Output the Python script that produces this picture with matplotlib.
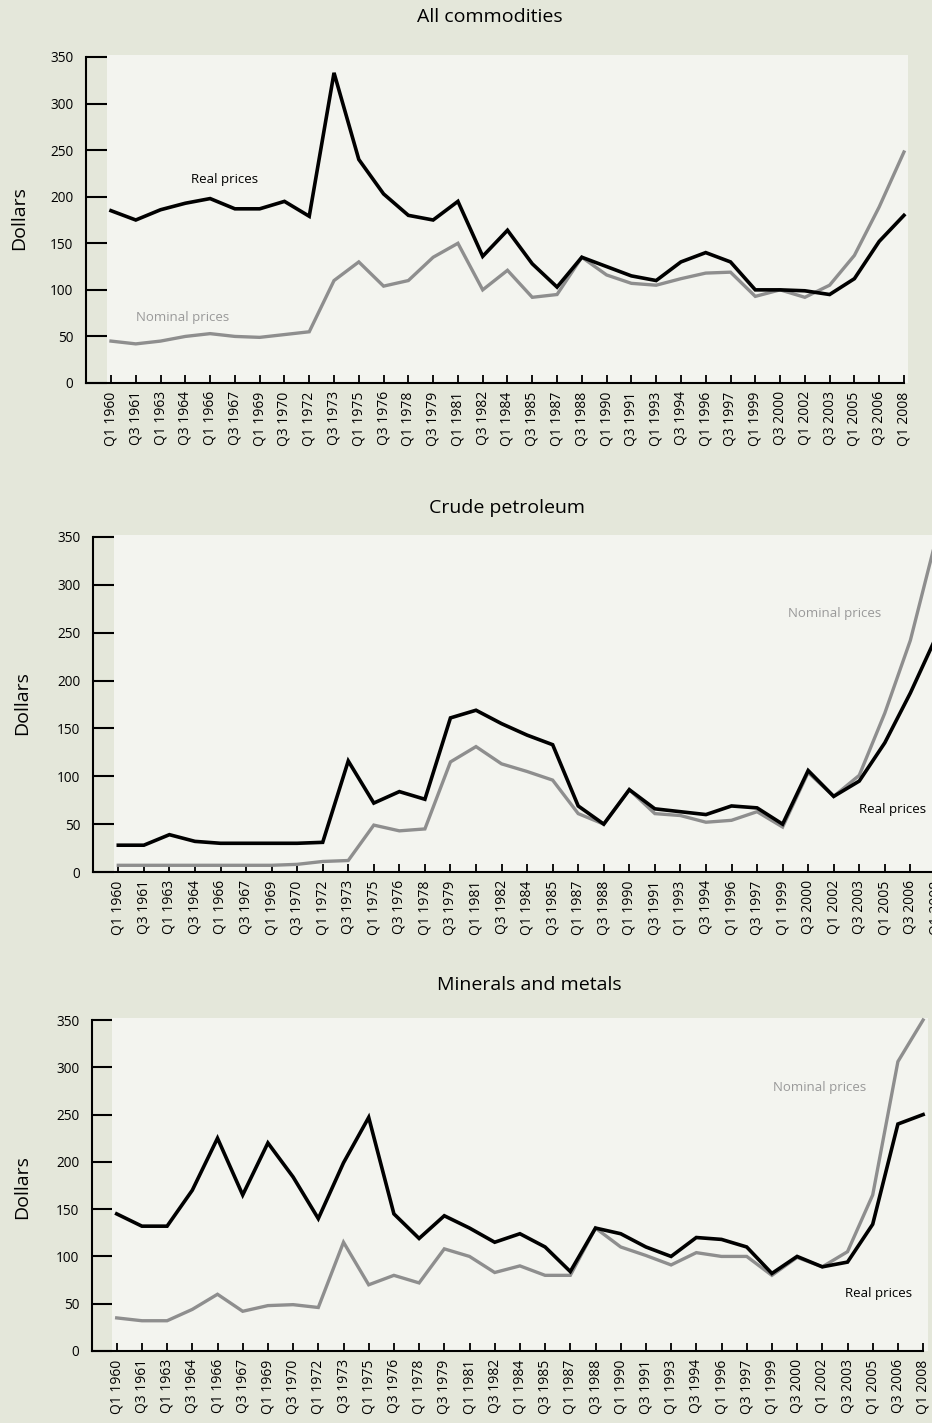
import matplotlib
matplotlib.use("Agg")
import matplotlib.pyplot as plt
from matplotlib.patches import Rectangle

quarters = ["Q1 1960", "Q3 1961", "Q1 1963", "Q3 1964", "Q1 1966", "Q3 1967", "Q1 1969",
            "Q3 1970", "Q1 1972", "Q3 1973", "Q1 1975", "Q3 1976", "Q1 1978", "Q3 1979",
            "Q1 1981", "Q3 1982", "Q1 1984", "Q3 1985", "Q1 1987", "Q3 1988", "Q1 1990",
            "Q3 1991", "Q1 1993", "Q3 1994", "Q1 1996", "Q3 1997", "Q1 1999", "Q3 2000",
            "Q1 2002", "Q3 2003", "Q1 2005", "Q3 2006", "Q1 2008"]

# All commodities
real_all = [185, 175, 186, 193, 198, 187, 187, 195, 179, 333, 240, 203, 180, 175, 195, 136, 164,
            128, 103, 135, 125, 115, 110, 130, 140, 130, 100, 100, 99, 95, 112, 152, 180]
nominal_all = [45, 42, 45, 50, 53, 50, 49, 52, 55, 110, 130, 104, 110, 135, 150, 100, 121,
               92, 95, 135, 116, 107, 105, 112, 118, 119, 93, 100, 92, 105, 137, 189, 248]

# Crude petroleum
real_oil = [28, 28, 39, 32, 30, 30, 30, 30, 31, 116, 72, 84, 76, 161, 169, 155, 143,
            133, 69, 50, 86, 66, 63, 60, 69, 67, 50, 106, 79, 95, 135, 187, 245]
nominal_oil = [7, 7, 7, 7, 7, 7, 7, 8, 11, 12, 49, 43, 45, 115, 131, 113, 105,
               96, 61, 50, 86, 61, 59, 52, 54, 63, 47, 104, 79, 101, 166, 242, 347]

# Minerals and metals
real_min = [145, 132, 132, 170, 225, 165, 220, 184, 140, 199, 247, 145, 119, 143, 130, 115, 124,
            110, 84, 130, 124, 110, 100, 120, 118, 110, 82, 100, 89, 94, 134, 240, 250]
nominal_min = [35, 32, 32, 44, 60, 42, 48, 49, 46, 115, 70, 80, 72, 108, 100, 83, 90,
               80, 80, 130, 110, 101, 91, 104, 100, 100, 80, 99, 89, 105, 165, 306, 350]

yticks = [0, 50, 100, 150, 200, 250, 300, 350]

BG = "#e4e7da"
PANEL = "#f3f4ef"
GREY = "#8e8e8e"
W, H = 932, 1423

plt.rcParams["font.family"] = ["Open Sans", "DejaVu Sans"]

fig = plt.figure(figsize=(W / 100, H / 100), dpi=100)
fig.patch.set_facecolor(BG)

# pixel layout of each panel: spine x, first point x, spacing, x-axis y, y of 350, patch left/right
panels = [
    dict(title="All commodities", real=real_all, nom=nominal_all,
         spine=86, x0=111, dx=24.78, y0=383, y350=57, pl=107, pr=908,
         title_xy=(490, 17), ylab_xy=(19, 218),
         real_txt=(225, 180), nom_txt=(183, 317)),
    dict(title="Crude petroleum", real=real_oil, nom=nominal_oil,
         spine=93, x0=118.3, dx=25.55, y0=872, y350=537, pl=114, pr=944,
         title_xy=(507, 508), ylab_xy=(22, 703),
         real_txt=(893, 810), nom_txt=(835, 613)),
    dict(title="Minerals and metals", real=real_min, nom=nominal_min,
         spine=92, x0=116.7, dx=25.2, y0=1351, y350=1020, pl=112, pr=928,
         title_xy=(529, 985), ylab_xy=(22, 1187),
         real_txt=(879, 1293), nom_txt=(820, 1088)),
]

x = list(range(len(quarters)))

for p in panels:
    xmin = -(p["x0"] - p["spine"]) / p["dx"]
    xmax = 32 + (p["pr"] - (p["x0"] + 32 * p["dx"])) / p["dx"]
    left = p["spine"] / W
    width = (p["pr"] - p["spine"]) / W
    bottom = 1 - p["y0"] / H
    height = (p["y0"] - p["y350"]) / H
    ax = fig.add_axes([left, bottom, width, height])
    ax.set_facecolor("none")
    ax.set_xlim(xmin, xmax)
    ax.set_ylim(0, 350)

    pleft = -(p["x0"] - p["pl"]) / p["dx"]
    ax.add_patch(Rectangle((pleft, 0), xmax - pleft, 352, facecolor=PANEL,
                           edgecolor="none", zorder=0, clip_on=False))

    ax.plot(x, p["nom"], color=GREY, lw=2.4, solid_joinstyle="miter", zorder=2, clip_on=False)
    ax.plot(x, p["real"], color="black", lw=2.6, solid_joinstyle="miter", zorder=3, clip_on=False)

    for s in ["top", "right"]:
        ax.spines[s].set_visible(False)
    for s in ["left", "bottom"]:
        ax.spines[s].set_linewidth(1.5)
        ax.spines[s].set_zorder(4)
    ax.spines["bottom"].set_bounds(xmin, 32)

    ax.set_yticks(yticks)
    ax.set_yticklabels([str(v) for v in yticks], fontsize=9.8)
    ax.tick_params(axis="y", direction="in", length=(p["pl"] - p["spine"]) * 0.72,
                   width=1.5, pad=9)
    ax.set_xticks(x)
    ax.set_xticklabels(quarters, rotation=90, fontsize=10)
    ax.tick_params(axis="x", direction="in", length=5.5, width=1.3, pad=6)

    fig.text(p["title_xy"][0] / W, 1 - p["title_xy"][1] / H, p["title"],
             ha="center", va="center", fontsize=14)
    fig.text(p["ylab_xy"][0] / W, 1 - p["ylab_xy"][1] / H, "Dollars",
             ha="center", va="center", rotation=90, fontsize=14)
    fig.text(p["real_txt"][0] / W, 1 - p["real_txt"][1] / H, "Real prices",
             ha="center", va="center", fontsize=9.5, color="black")
    fig.text(p["nom_txt"][0] / W, 1 - p["nom_txt"][1] / H, "Nominal prices",
             ha="center", va="center", fontsize=9.5, color="#999999")

fig.savefig("out.png", dpi=100, facecolor=BG)
